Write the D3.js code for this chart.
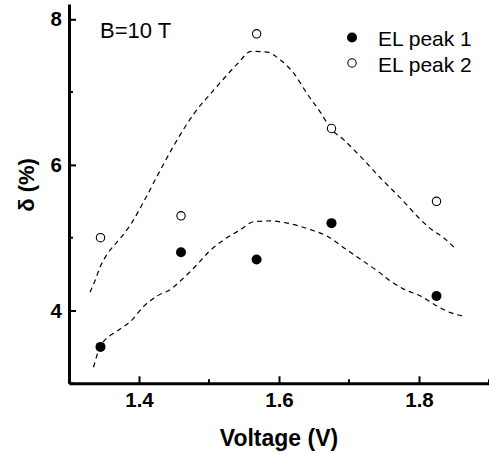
<!DOCTYPE html>
<html>
<head>
<meta charset="utf-8">
<script src="https://cdn.jsdelivr.net/npm/d3@7"></script>
<style>
  body { margin: 0; background: #fff; }
  svg { display: block; font-family: Arial, 'Liberation Sans', sans-serif; }
  .axis .domain { stroke: #000; stroke-width: 3; }
  .axis .tick line { stroke: #000; stroke-width: 2; }
  .axis .tick text { font-family: Arial, 'Liberation Sans', sans-serif; font-size: 20.5px; font-weight: bold; fill: #000; }
  .fit { fill: none; stroke: #000; stroke-width: 1.2; stroke-dasharray: 5,4; }
</style>
</head>
<body>
<div id="chart"></div>
<script>
// measured points
const voltage = [1.345, 1.46, 1.568, 1.675, 1.825]
const peak1 = [3.5, 4.8, 4.7, 5.2, 4.2]
const peak2 = [5.0, 5.3, 7.8, 6.5, 5.5]

// dashed guide curves
const upperV = [1.330, 1.336, 1.345, 1.355, 1.364, 1.374, 1.388, 1.407, 1.430, 1.450, 1.479, 1.507, 1.541, 1.560, 1.583, 1.602, 1.621, 1.640, 1.660, 1.674, 1.693, 1.717, 1.745, 1.774, 1.802, 1.817, 1.835, 1.852]
const upper = [4.25, 4.38, 4.61, 4.78, 4.89, 5.00, 5.18, 5.50, 5.92, 6.27, 6.71, 7.03, 7.39, 7.56, 7.55, 7.44, 7.26, 6.98, 6.71, 6.50, 6.34, 6.11, 5.82, 5.54, 5.25, 5.12, 5.00, 4.85]
const lowerV = [1.335, 1.345, 1.369, 1.388, 1.407, 1.426, 1.445, 1.464, 1.483, 1.498, 1.521, 1.545, 1.564, 1.588, 1.612, 1.645, 1.669, 1.693, 1.717, 1.741, 1.760, 1.779, 1.802, 1.826, 1.845, 1.866]
const lower = [3.22, 3.51, 3.72, 3.85, 4.06, 4.20, 4.29, 4.45, 4.63, 4.79, 4.97, 5.11, 5.22, 5.23, 5.20, 5.11, 5.02, 4.86, 4.70, 4.54, 4.40, 4.29, 4.20, 4.06, 3.97, 3.92]

const xMajor = [1.4, 1.6, 1.8]
const xMinor = [1.3, 1.5, 1.7, 1.9]
const yMajor = [4, 6, 8]
const yMinor = [3, 5, 7]

const legendLabels = ['EL peak 1', 'EL peak 2']

const width = 489, height = 454

const x = d3.scaleLinear().domain([1.3, 1.9]).range([69, 489])
const y = d3.scaleLinear().domain([3, 8.21]).range([383.3, 4])

const svg = d3.select('#chart').append('svg')
  .attr('width', width)
  .attr('height', height)
  .attr('viewBox', [0, 0, width, height])

// axes: major ticks with labels, minor ticks without
svg.append('g')
  .attr('class', 'axis x')
  .attr('transform', `translate(0, ${y.range()[0]})`)
  .call(d3.axisBottom(x).tickValues(xMajor).tickFormat(d3.format('.1f')).tickSize(-7).tickSizeOuter(0).tickPadding(9))
  .call(g => g.selectAll('.minor').data(xMinor).join('line')
    .attr('class', 'minor')
    .attr('x1', d => x(d)).attr('x2', d => x(d))
    .attr('y1', 0).attr('y2', -4)
    .attr('stroke', '#000').attr('stroke-width', 2))

svg.append('g')
  .attr('class', 'axis y')
  .attr('transform', `translate(${x.range()[0]}, 0)`)
  .call(d3.axisLeft(y).tickValues(yMajor).tickFormat(d3.format('d')).tickSize(-7).tickSizeOuter(0).tickPadding(7))
  .call(g => g.selectAll('.minor').data(yMinor).join('line')
    .attr('class', 'minor')
    .attr('y1', d => y(d)).attr('y2', d => y(d))
    .attr('x1', 0).attr('x2', 4)
    .attr('stroke', '#000').attr('stroke-width', 2))

// axis titles
svg.append('text')
  .attr('x', x(1.6))
  .attr('y', 446)
  .attr('text-anchor', 'middle')
  .style('font-size', '23px')
  .style('font-weight', 'bold')
  .text('Voltage (V)')

svg.append('text')
  .attr('transform', 'translate(34, 185) rotate(-90)')
  .attr('text-anchor', 'middle')
  .style('font-size', '22px')
  .style('font-weight', 'bold')
  .text('δ (%)')

svg.append('text')
  .attr('x', 100)
  .attr('y', 37.5)
  .style('font-size', '22px')
  .text('B=10 T')

// guide curves
const line = d3.line()
  .x(d => x(d[0]))
  .y(d => y(d[1]))
  .curve(d3.curveMonotoneX)

svg.append('g')
  .selectAll('path')
  .data([d3.zip(upperV, upper), d3.zip(lowerV, lower)])
  .join('path')
  .attr('class', 'fit')
  .attr('d', line)

// data points
svg.append('g')
  .selectAll('circle')
  .data(d3.zip(voltage, peak1))
  .join('circle')
  .attr('cx', d => x(d[0]))
  .attr('cy', d => y(d[1]))
  .attr('r', 5)
  .attr('fill', '#000')

svg.append('g')
  .selectAll('circle')
  .data(d3.zip(voltage, peak2))
  .join('circle')
  .attr('cx', d => x(d[0]))
  .attr('cy', d => y(d[1]))
  .attr('r', 4.2)
  .attr('fill', '#fff')
  .attr('stroke', '#000')
  .attr('stroke-width', 1.1)

// legend
svg.append('g')
  .attr('class', 'legend')
  .attr('transform', 'translate(352, 37.5)')
  .selectAll('g')
  .data(legendLabels)
  .join('g')
    .attr('transform', (d, i) => `translate(0, ${i * 25.5})`)
  .call(g => g.append('circle')
    .attr('r', (d, i) => i ? 4.2 : 5)
    .attr('fill', (d, i) => i ? '#fff' : '#000')
    .attr('stroke', '#000')
    .attr('stroke-width', (d, i) => i ? 1.1 : 0))
  .call(g => g.append('text')
    .attr('x', 26)
    .attr('y', 8.5)
    .style('font-size', '21px')
    .text(d => d))
</script>
</body>
</html>
